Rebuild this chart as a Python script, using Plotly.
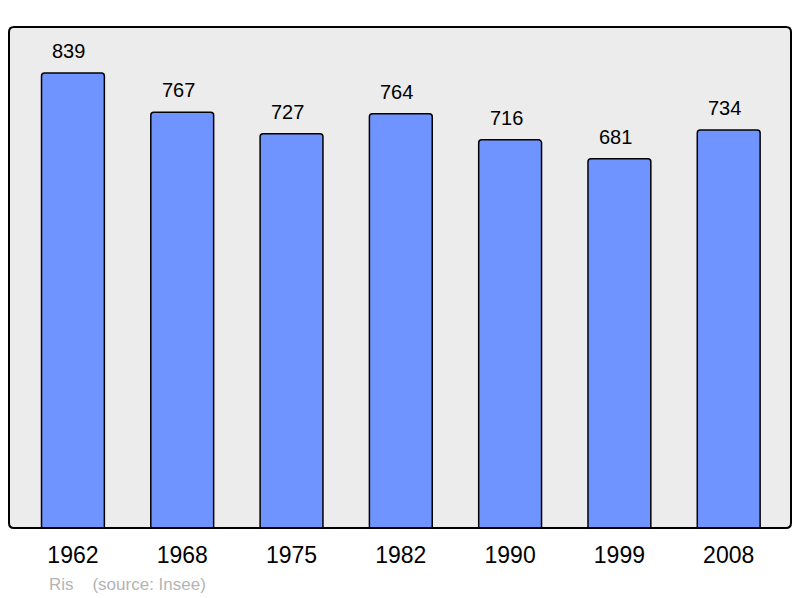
import plotly.graph_objects as go

years = ["1962", "1968", "1975", "1982", "1990", "1999", "2008"]
population = [839, 767, 727, 764, 716, 681, 734]
commune = "Ris"
source_note = "(source: Insee)"

xpos = list(range(len(years)))

fig = go.Figure()
fig.add_trace(go.Bar(
    x=xpos, y=population, width=0.575,
    marker=dict(color="#7094ff", line=dict(color="black", width=1.5), cornerradius=3),
    hoverinfo="skip",
))

# value labels above each bar
for xv, v in zip(xpos, population):
    fig.add_annotation(x=xv, y=v, text=str(v), showarrow=False, yanchor="bottom",
                       yshift=9, xshift=-4, font=dict(size=20, color="black"))

fig.add_annotation(text=f"{commune}&nbsp;&nbsp;&nbsp;&nbsp;{source_note}", xref="paper", yref="paper",
                   x=38 / 782, y=-56 / 501, xanchor="left", yanchor="middle",
                   showarrow=False, font=dict(size=17, color="#b4b4b4"))

fig.update_xaxes(range=[-0.585, 6.57], tickvals=xpos, ticktext=years, showgrid=False,
                 zeroline=False, ticks="", tickfont=dict(size=23, color="black"),
                 ticklabelstandoff=11, fixedrange=True)
fig.update_yaxes(range=[0, 924], showgrid=False, zeroline=False, showticklabels=False,
                 fixedrange=True)

# rounded frame around the plot area (radius in pixels converted to paper units)
rx, ry = 5 / 782, 5 / 501
frame = (f"M {rx},0 L {1 - rx},0 Q 1,0 1,{ry} L 1,{1 - ry} Q 1,1 {1 - rx},1 "
         f"L {rx},1 Q 0,1 0,{1 - ry} L 0,{ry} Q 0,0 {rx},0 Z")

# page body has an 8px margin, so the figure is sized to fit inside the window
fig.update_layout(
    width=792, height=590,
    margin=dict(l=1, r=9, t=19, b=70),
    plot_bgcolor="#ececec", paper_bgcolor="white",
    font=dict(family="Liberation Sans, Arial, sans-serif"),
    showlegend=False,
    shapes=[dict(type="path", xref="paper", yref="paper", path=frame,
                 line=dict(color="black", width=2), layer="above")],
)

fig.write_html("out.html")
